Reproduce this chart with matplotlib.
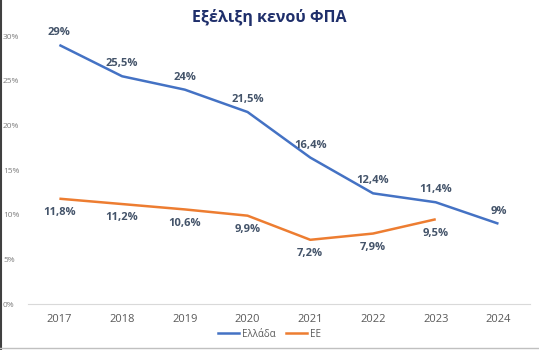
import matplotlib.pyplot as plt
from matplotlib.lines import Line2D

years = ["2017", "2018", "2019", "2020", "2021", "2022", "2023", "2024"]
greece = [29.0, 25.5, 24.0, 21.5, 16.4, 12.4, 11.4, 9.0]
eu = [11.8, 11.2, 10.6, 9.9, 7.2, 7.9, 9.5]
yticks = [0, 5, 10, 15, 20, 25, 30]

BLUE = "#4472C4"
ORANGE = "#ED7D31"
LABEL = "#44546A"

plt.rcParams["font.family"] = ["Open Sans", "DejaVu Sans"]


def fmt(v):
    s = f"{v:.1f}".replace(".", ",")
    if s.endswith(",0"):
        s = s[:-2]
    return s + "%"


fig = plt.figure(figsize=(5.39, 3.5), dpi=100)
ax = fig.add_axes([0.052, 0.131, 0.931, 0.766])

x_gr = list(range(len(greece)))
x_eu = list(range(len(eu)))
ax.plot(x_gr, greece, color=BLUE, linewidth=1.8, solid_capstyle="butt")
ax.plot(x_eu, eu, color=ORANGE, linewidth=1.8, solid_capstyle="butt")

for x, v in zip(x_gr, greece):
    ax.annotate(fmt(v), (x, v), xytext=(0, 5), textcoords="offset points",
                ha="center", va="bottom", fontsize=8, fontweight="bold", color=LABEL)
for x, v in zip(x_eu, eu):
    ax.annotate(fmt(v), (x, v), xytext=(0, -6), textcoords="offset points",
                ha="center", va="top", fontsize=8, fontweight="bold", color=LABEL)

ax.set_xlim(-0.5, len(years) - 0.5)
ax.set_ylim(0, 30)
ax.set_xticks(x_gr)
ax.set_xticklabels(years)
ax.set_yticks(yticks)
ax.set_yticklabels([f"{t}%" for t in yticks])
ax.tick_params(axis="x", length=0, labelsize=8, colors="#595959", pad=7)
ax.tick_params(axis="y", length=0, labelsize=6, colors="#7f7f7f", pad=0)
for t in ax.get_yticklabels():
    t.set_horizontalalignment("left")
    t.set_x(-0.05)
for side in ["top", "right", "left"]:
    ax.spines[side].set_visible(False)
ax.spines["bottom"].set_color("#d9d9d9")

fig.text(0.5, 0.95, "Εξέλιξη κενού ΦΠΑ", ha="center", va="center",
         fontsize=11.5, fontweight="bold", color="#1F2F6B")

handles = [Line2D([], [], color=BLUE, linewidth=1.8),
           Line2D([], [], color=ORANGE, linewidth=1.8)]
fig.legend(handles, ["Ελλάδα", "ΕΕ"], loc="center", bbox_to_anchor=(0.5, 0.045),
           ncol=2, frameon=False, fontsize=7, handlelength=2.2,
           handletextpad=0.3, columnspacing=1.0, labelcolor="#595959")

fig.add_artist(Line2D([0.002, 0.002], [0, 1], color="#404040", linewidth=1.5,
                      transform=fig.transFigure))
fig.add_artist(Line2D([0, 1], [0.005, 0.005], color="#c0c0c0", linewidth=1,
                      transform=fig.transFigure))

fig.savefig("out.png", dpi=100)
